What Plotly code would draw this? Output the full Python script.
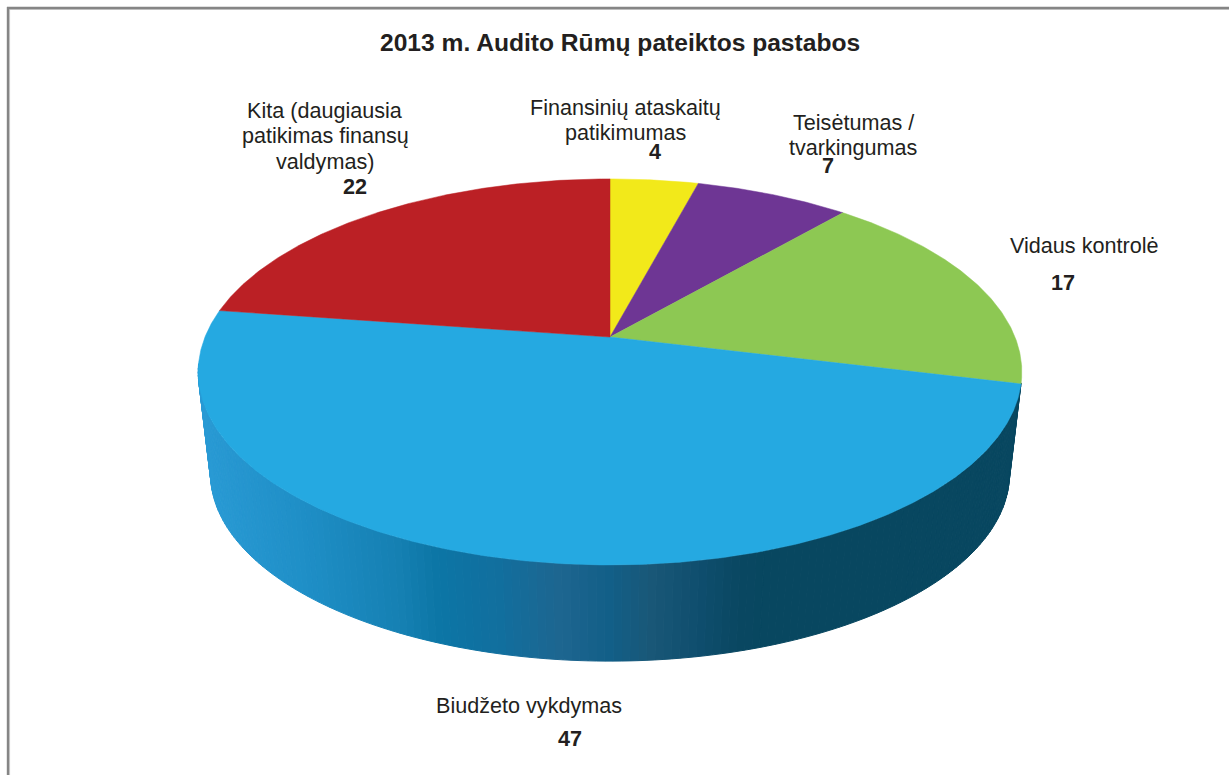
import numpy as np
import plotly.graph_objects as go

categories = ["Finansinių ataskaitų patikimumas", "Teisėtumas / tvarkingumas", "Vidaus kontrolė", "Biudžeto vykdymas", "Kita (daugiausia patikimas finansų valdymas)"]
values = [4, 7, 17, 47, 22]
top_colors = ["#f2e91a", "#6e3694", "#8dc853", "#25a9e1", "#bb2025"]
label_lines = [
    ["Finansinių ataskaitų", "patikimumas"],
    ["Teisėtumas /", "tvarkingumas"],
    ["Vidaus kontrolė"],
    ["Biudžeto vykdymas"],
    ["Kita (daugiausia", "patikimas finansų", "valdymas)"],
]
label_x = [625, 853, 1084, 529, 325]
label_y = [107, 122, 245, 705, 110]
line_gap = [25, 25, 25, 25, 25.5]
value_x = [655, 828, 1063, 570, 355]
value_y = [151, 165, 282, 738, 186]
wall_x = [196, 300, 400, 435, 500, 560, 610, 650, 700, 740, 770, 1025]
wall_colors = ["#2a9bd5", "#1f8fc7", "#1580b2", "#0c76a6", "#126f9e", "#1e6690", "#125f88", "#1a5878", "#0f4e6e", "#0a4862", "#084760", "#084760"]

CX, CY = 610.0, 337.0
A, B, K = 405.0, 186.7, 0.181
DEPTH, LOW_SCALE = 103.0, 0.97
WALL_START, WALL_END = 28 / 97 * 360 - 0.3, 262.0


def rim(theta_deg, scale=1.0, dy=0.0):
    t = np.radians(theta_deg)
    x, y = np.sin(t), -np.cos(t)
    d = 1 - K * y
    return CX + scale * A * x / d, CY + dy + scale * B * y / d


def hex_rgb(c):
    return np.array([int(c[i:i + 2], 16) for i in (1, 3, 5)], dtype=float)


wall_rgb = np.array([hex_rgb(c) for c in wall_colors])


def wall_color(x):
    return "rgb(%d,%d,%d)" % tuple(np.interp(x, wall_x, wall_rgb[:, i]) for i in range(3))


fig = go.Figure()

# side wall, one thin facet per step of angle
steps = np.arange(WALL_START, WALL_END, 1.0)
for a0 in steps:
    a1 = min(a0 + 1.0, WALL_END)
    ts = np.array([a0, a1])
    ux, uy = rim(ts)
    lx, ly = rim(ts, LOW_SCALE, DEPTH)
    col = wall_color(float(np.mean(ux)))
    fig.add_trace(go.Scatter(
        x=[ux[0], ux[1], lx[1], lx[0], ux[0]], y=[uy[0], uy[1], ly[1], ly[0], uy[0]],
        mode="lines", fill="toself", fillcolor=col, line=dict(color=col, width=1),
        hoverinfo="skip", showlegend=False))

# top face, slices computed from the values
total = sum(values)
start = 0.0
for name, val, col in zip(categories, values, top_colors):
    end = start + val / total * 360
    ts = np.linspace(start, end, max(int(val * 8), 12))
    rx, ry = rim(ts)
    fig.add_trace(go.Scatter(
        x=np.r_[CX, rx, CX], y=np.r_[CY, ry, CY], name=name,
        mode="lines", fill="toself", fillcolor=col, line=dict(color=col, width=0.5),
        hoverinfo="name", showlegend=False))
    start = end

ann = []
FONT = "Liberation Sans"
TXT = "#231f20"
for lines, lx, ly, gap, val, vx, vy in zip(label_lines, label_x, label_y, line_gap, values, value_x, value_y):
    for i, line in enumerate(lines):
        ann.append(dict(x=lx, y=ly + i * gap, text=line, showarrow=False, xanchor="center", yanchor="middle",
                        font=dict(family=FONT, size=21.6, color=TXT)))
    ann.append(dict(x=vx, y=vy, text="<b>%d</b>" % val, showarrow=False, xanchor="center", yanchor="middle",
                    font=dict(family=FONT, size=21.6, color=TXT)))
ann.append(dict(x=620, y=42, text="<b>2013 m. Audito Rūmų pateiktos pastabos</b>", showarrow=False,
                xanchor="center", yanchor="middle", font=dict(family=FONT, size=24.6, color=TXT)))

border = "#858585"
light = "#d2d2d2"
shapes = [
    dict(type="line", x0=9.5, x1=9.5, y0=9, y1=775, line=dict(color=light, width=1.2)),
    dict(type="line", x0=9, x1=1229, y0=9.5, y1=9.5, line=dict(color=light, width=1.2)),
    dict(type="line", x0=8, x1=8, y0=7, y1=775, line=dict(color=border, width=2.4)),
    dict(type="line", x0=7, x1=1229, y0=8, y1=8, line=dict(color=border, width=2.4)),
]

fig.update_layout(
    width=1229, height=775, margin=dict(l=0, r=0, t=0, b=0),
    paper_bgcolor="white", plot_bgcolor="white",
    xaxis=dict(range=[0, 1229], visible=False, fixedrange=True),
    yaxis=dict(range=[775, 0], visible=False, fixedrange=True),
    annotations=ann, shapes=shapes, showlegend=False,
)
fig.write_html("out.html", config={"displayModeBar": False},
               post_script="document.body.style.margin='0';document.body.style.overflow='hidden';")
